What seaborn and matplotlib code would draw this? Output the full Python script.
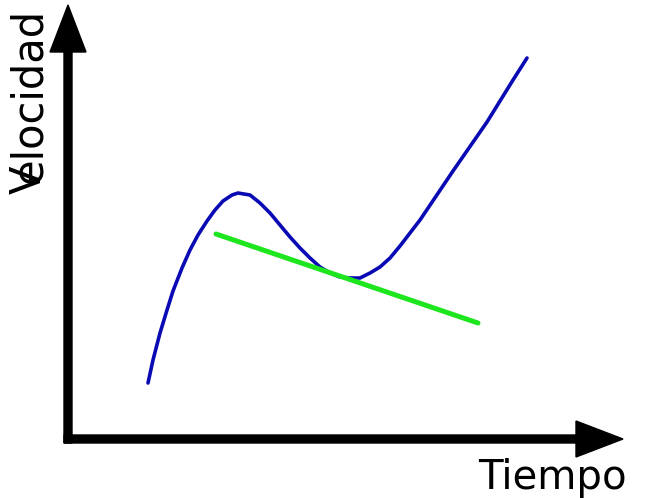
import matplotlib
matplotlib.use("Agg")
import matplotlib.pyplot as plt
import seaborn as sns
import pandas as pd

# curve (time, velocity in arbitrary units)
tiempo = [80, 85, 92, 99, 105, 114, 122, 130, 139, 147, 155, 164, 170, 182,
          192, 202, 212, 222, 232, 242, 252, 262, 272, 282, 292, 302, 312,
          322, 332, 352, 385, 419, 445, 459]
velocidad = [56, 79, 106, 129, 148, 171, 189, 204, 218, 229, 238, 244, 246, 244,
             236, 226, 214, 202, 191, 181, 172, 166, 162, 161, 161, 166, 172,
             181, 193, 219, 268, 317, 359, 381]

# tangent line at the local minimum
tangente_t = [148, 410]
tangente_v = [205, 116]

# axis extent
eje_t_max = 555
eje_v_max = 434

sns.set_style("white")
plt.rcParams['font.family'] = ['DejaVu Sans']

fig = plt.figure(figsize=(6.52, 4.98), dpi=100)
ax = fig.add_axes([0, 0, 1, 1])

curva = pd.DataFrame({'t': tiempo, 'v': velocidad})
recta = pd.DataFrame({'t': tangente_t, 'v': tangente_v})

sns.lineplot(data=curva, x='t', y='v', sort=False, estimator=None, ax=ax,
             color='#0a0ab4', linewidth=2.6)
sns.lineplot(data=recta, x='t', y='v', sort=False, estimator=None, ax=ax,
             color='#1ee61e', linewidth=3.6, solid_capstyle='round')

# axes as arrows
ax.arrow(-4, 0, eje_t_max + 4, 0, width=8, head_width=36, head_length=47,
         length_includes_head=True, color='black', zorder=3)
ax.arrow(0, -4, 0, eje_v_max + 4, width=8, head_width=36, head_length=47,
         length_includes_head=True, color='black', zorder=3)

ax.text(410, -50, 'Tiempo', fontsize=29, color='black', ha='left', va='baseline')
ax.text(-27, 245, 'V', fontsize=30, color='black', rotation=90,
        rotation_mode='anchor', ha='left', va='baseline')
ax.text(-27, 256, 'elocidad', fontsize=30, color='black', rotation=90,
        rotation_mode='anchor', ha='left', va='baseline')

ax.set_xlim(-68, 584)
ax.set_ylim(-59, 439)
ax.axis('off')

fig.savefig('out.png', dpi=100)
